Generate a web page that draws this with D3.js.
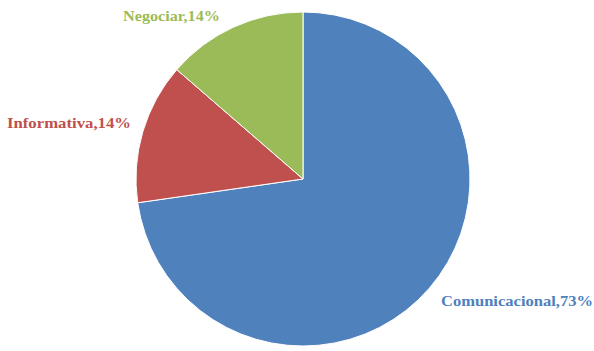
<!DOCTYPE html>
<html>
<head>
<meta charset="utf-8">
<script src="https://cdn.jsdelivr.net/npm/d3@7"></script>
<style>
  body { margin: 0; background: #fff; }
  text { font-family: "Liberation Serif", "DejaVu Serif", serif; font-weight: bold; }
</style>
</head>
<body>
<svg id="chart"></svg>
<script>
// Data
const categories = ['Comunicacional', 'Informativa', 'Negociar'];
const values = [16, 3, 3];
const pctLabels = ['73%', '14%', '14%'];
const colors = ['#4f81bd', '#c0504d', '#9bbb59'];

const width = 594, height = 351;
const cx = 303, cy = 179, radius = 167;

const svg = d3.select('#chart')
    .attr('width', width)
    .attr('height', height);

const g = svg.append('g')
    .attr('transform', `translate(${cx},${cy})`);

const pie = d3.pie().sort(null).value(d => d);
const arc = d3.arc().innerRadius(0).outerRadius(radius);

const arcs = pie(values);

g.selectAll('path')
  .data(arcs)
  .enter().append('path')
    .attr('d', arc)
    .attr('fill', (d, i) => colors[i])
    .attr('stroke', '#fff')
    .attr('stroke-width', 1);

// Label placement (outside the pie, as in the original)
const labelPos = [
  { x: 441, y: 306, w: 152 },
  { x: 7, y: 128, w: 124 },
  { x: 123, y: 21, w: 97 }
];

svg.selectAll('.label')
  .data(arcs)
  .enter().append('text')
    .attr('class', 'label')
    .attr('x', (d, i) => labelPos[i].x)
    .attr('y', (d, i) => labelPos[i].y)
    .attr('textLength', (d, i) => labelPos[i].w)
    .attr('lengthAdjust', 'spacingAndGlyphs')
    .style('font-size', '14px')
    .style('fill', (d, i) => colors[i])
    .text((d, i) => `${categories[i]},${pctLabels[i]}`);
</script>
</body>
</html>
